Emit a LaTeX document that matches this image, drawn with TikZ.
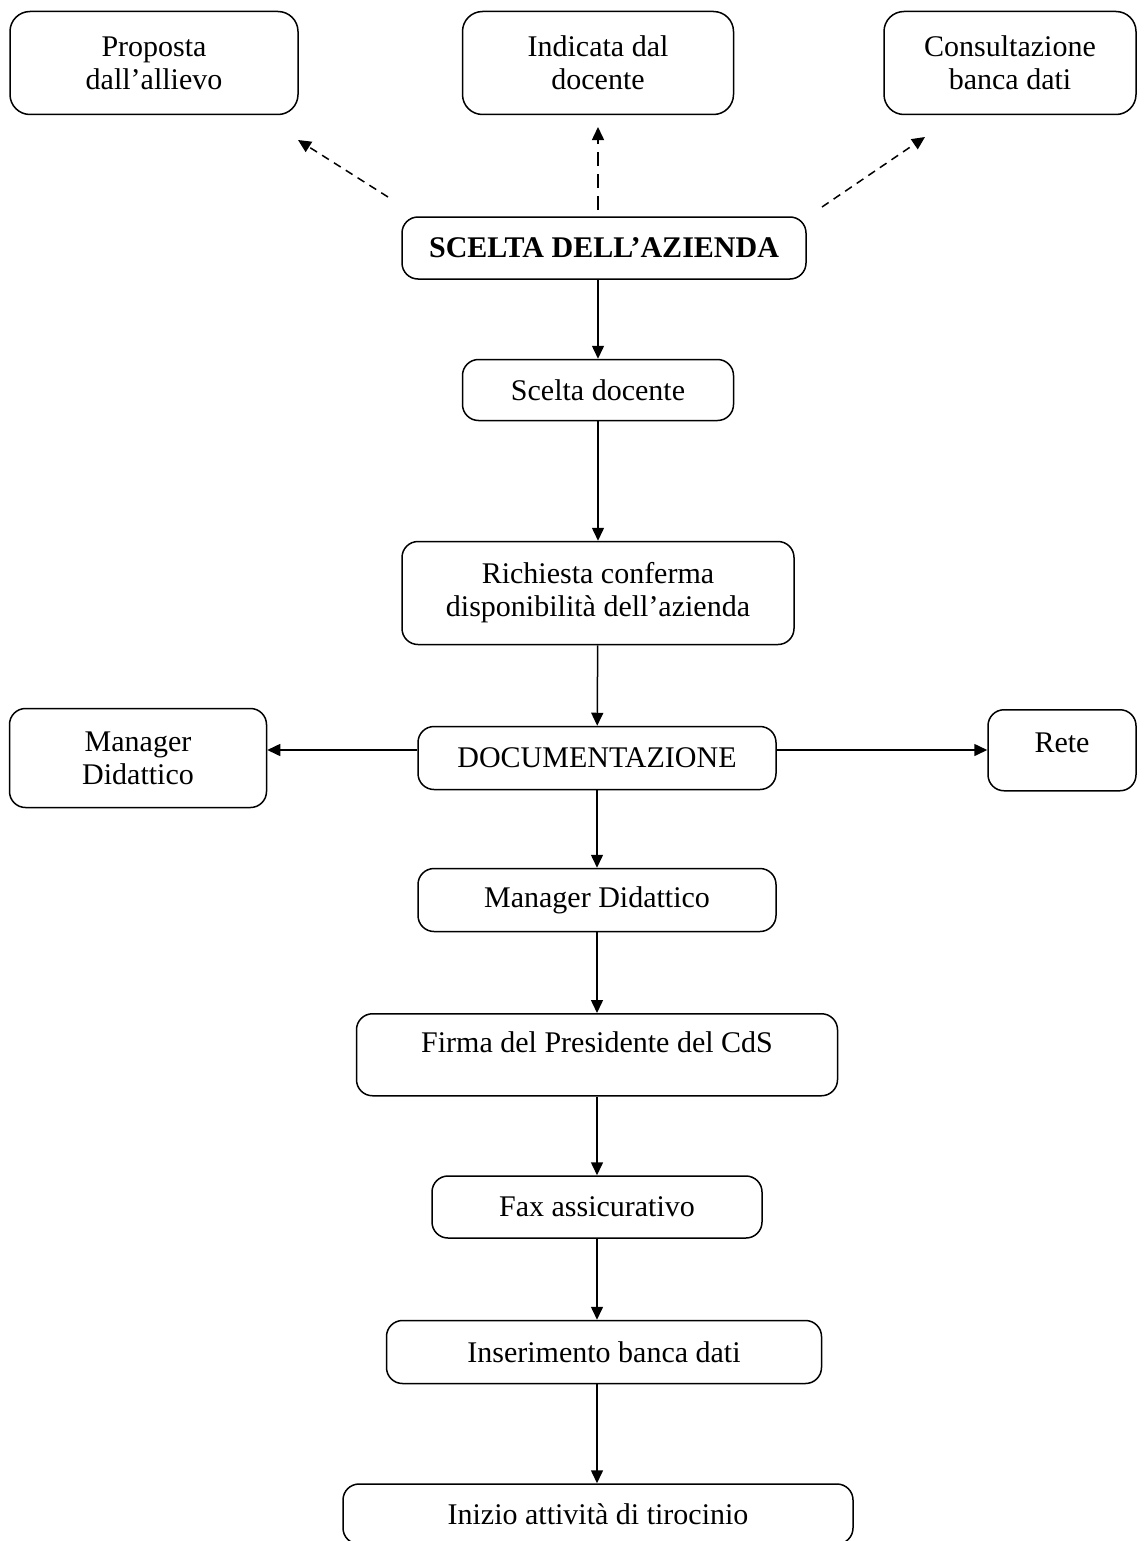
\documentclass[tikz,border=0pt]{standalone}
\usepackage{fontspec}
\setmainfont{Liberation Serif}
\usetikzlibrary{arrows.meta, positioning, calc}

\begin{document}
\begin{tikzpicture}[x=0.5pt, y=-0.5pt,
    box/.style={draw, line width=0.75pt, rounded corners=8pt, align=center, inner sep=0pt,
      font=\fontsize{15pt}{16.5pt}\selectfont},
    flow/.style={-{Triangle[length=6.5pt, width=6pt]}, line width=0.75pt},
    dflow/.style={flow, dash pattern=on 4pt off 3pt},
    lflow/.style={flow, dash pattern=on 7pt off 4pt}]
  \useasboundingbox (0,0) rectangle (1146,1541);
  % top row
  \node[box, rounded corners=10pt, minimum width=144pt, minimum height=51.5pt] (proposta) at (154,63) {Proposta\\dall'allievo};
  \node[box, rounded corners=10pt, minimum width=135.5pt, minimum height=51.5pt] (indicata) at (598,63) {Indicata dal\\docente};
  \node[box, rounded corners=10pt, minimum width=126pt, minimum height=51.5pt] (consult) at (1010,63) {Consultazione\\banca dati};
  % main column
  \node[box, minimum width=202pt, minimum height=31pt, font=\fontsize{15pt}{16.5pt}\selectfont\bfseries] (scelta) at (604,248) {SCELTA DELL'AZIENDA};
  \node[box, minimum width=135.5pt, minimum height=30.5pt] (sdoc) at (598,390) {Scelta docente};
  \node[box, minimum width=196pt, minimum height=51.5pt] (richiesta) at (598,593) {Richiesta conferma\\disponibilità dell'azienda};
  \node[box, minimum width=179pt, minimum height=31.5pt] (doc) at (597,758) {DOCUMENTAZIONE};
  \node[box, minimum width=128.5pt, minimum height=49.5pt] (mdleft) at (138,758) {Manager\\Didattico};
  \node[box, anchor=north, minimum width=74pt, text height=21.5pt, text depth=19pt] (rete) at (1062,709) {Rete};
  \node[box, minimum width=179pt, minimum height=31.5pt] (mdid) at (597,900) {Manager Didattico};
  \node[box, anchor=north, minimum width=240.5pt, text height=19.5pt, text depth=21.5pt] (firma) at (597,1013) {Firma del Presidente del CdS};
  \node[box, minimum width=165pt, minimum height=31pt] (fax) at (597,1207) {Fax assicurativo};
  \node[box, minimum width=217.5pt, minimum height=31.5pt] (ins) at (604,1352) {Inserimento banca dati};
  \node[box, minimum width=255pt, minimum height=30pt] (inizio) at (598,1514) {Inizio attività di tirocinio};

  % dashed choices
  \coordinate (dlfrom) at (388,197);
  \coordinate (dlto) at (298,140);
  \coordinate (dmfrom) at (598,210);
  \coordinate (dmto) at (598,127);
  \coordinate (drfrom) at (822,207);
  \coordinate (drto) at (925,137);
  \draw[dflow] (dlfrom) -- (dlto);
  \draw[lflow] (dmfrom) -- (dmto);
  \draw[dflow] (drfrom) -- (drto);

  % arrows
  \draw[flow] (scelta.south -| sdoc.north) -- (sdoc.north);
  \draw[flow] (sdoc) -- (richiesta);
  \draw[flow] (richiesta) -- (doc);
  \draw[flow] ([yshift=4pt]doc.west) -- ([yshift=4pt]doc.west -| mdleft.east);
  \draw[flow] ([yshift=4pt]doc.east) -- ([yshift=4pt]doc.east -| rete.west);
  \draw[flow] (doc) -- (mdid);
  \draw[flow] (mdid) -- (firma);
  \draw[flow] (firma) -- (fax);
  \draw[flow] (fax.south) -- (fax.south |- ins.north);
  \draw[flow] (ins.south -| fax.south) -- (inizio.north -| fax.south);
\end{tikzpicture}
\end{document}
